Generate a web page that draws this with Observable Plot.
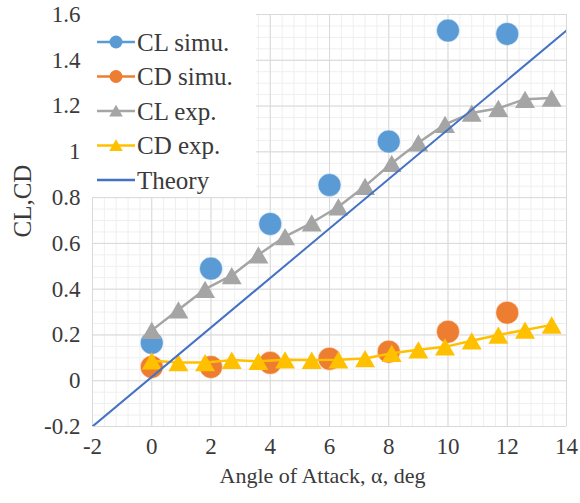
<!DOCTYPE html>
<html>
<head>
<meta charset="utf-8">
<script src="https://cdn.jsdelivr.net/npm/d3@7"></script>
<script src="https://cdn.jsdelivr.net/npm/@observablehq/plot@0.6"></script>
<style>
  html, body { margin: 0; padding: 0; background: #fff; }
  #chart { width: 580px; height: 503px; }
  #chart svg text { font-family: "Liberation Serif", "Times New Roman", serif !important; }
</style>
</head>
<body>
<div id="chart"></div>
<script>
// ---- data ----
const xTicks = [-2, 0, 2, 4, 6, 8, 10, 12, 14];
const yTicks = [-0.2, 0, 0.2, 0.4, 0.6, 0.8, 1, 1.2, 1.4, 1.6];

const simAlpha = [0, 2, 4, 6, 8, 10, 12];
const clSim = [0.165, 0.49, 0.685, 0.855, 1.045, 1.53, 1.515];
const cdSim = [0.06, 0.06, 0.078, 0.096, 0.127, 0.214, 0.297];

const expAlpha = [0, 0.9, 1.8, 2.7, 3.6, 4.5, 5.4, 6.3, 7.2, 8.1, 9.0, 9.9, 10.8, 11.7, 12.6, 13.5];
const clExp = [0.22, 0.31, 0.40, 0.46, 0.55, 0.63, 0.69, 0.76, 0.85, 0.95, 1.04, 1.12, 1.17, 1.19, 1.23, 1.235];
const cdExp = [0.087, 0.08, 0.08, 0.09, 0.085, 0.092, 0.09, 0.092, 0.097, 0.12, 0.135, 0.148, 0.175, 0.2, 0.222, 0.244];

const theoryAlpha = [-2, 14];
const theoryCL = [-0.2, 1.53];

const seriesNames = ["CL simu.", "CD simu.", "CL exp.", "CD exp.", "Theory"];
const xLabel = "Angle of Attack, α, deg";
const yLabel = "CL,CD";

// ---- styling ----
const C = { clSim: "#5B9BD5", cdSim: "#ED7D31", clExp: "#A5A5A5", cdExp: "#FFC000", theory: "#4472C4" };
const FONT = "Liberation Serif, Times New Roman, serif";
const TXT = "#3a3a3a";

const simRows = simAlpha.map((a, i) => ({ a, cl: clSim[i], cd: cdSim[i] }));
const expRows = expAlpha.map((a, i) => ({ a, cl: clExp[i], cd: cdExp[i] }));
const theoryRows = theoryAlpha.map((a, i) => ({ a, cl: theoryCL[i] }));

const minorX = d3.range(0, 41).map(i => -2 + i * 0.4);
const minorY = d3.range(0, 37).map(i => -0.2 + i * 0.05);

const TRI_R = 7.4;

const plot = Plot.plot({
  width: 580,
  height: 503,
  marginLeft: 92,
  marginRight: 14,
  marginTop: 14,
  marginBottom: 77,
  x: { domain: [-2, 14], axis: null },
  y: { domain: [-0.2, 1.6], axis: null },
  style: { fontFamily: FONT, color: TXT, background: "white" },
  marks: [
    Plot.ruleX(minorX, { stroke: "#efefef", strokeWidth: 1 }),
    Plot.ruleY(minorY, { stroke: "#efefef", strokeWidth: 1 }),
    Plot.ruleX(xTicks, { stroke: "#d9d9d9", strokeWidth: 1 }),
    Plot.ruleY(yTicks, { stroke: "#d9d9d9", strokeWidth: 1 }),
    Plot.axisX(xTicks, { tickSize: 0, tickPadding: 11, tickFormat: d => String(d), fontSize: 23, label: null, fill: TXT }),
    Plot.axisY(yTicks, { tickSize: 0, tickPadding: 12, tickFormat: d => String(d), fontSize: 23, label: null, fill: TXT }),
    // simulations
    Plot.dot(simRows, { x: "a", y: "cl", r: 11.5, fill: C.clSim, stroke: "white", strokeWidth: 0.5 }),
    Plot.dot(simRows, { x: "a", y: "cd", r: 11.5, fill: C.cdSim, stroke: "white", strokeWidth: 0.5 }),
    // experiments
    Plot.line(expRows, { x: "a", y: "cl", stroke: C.clExp, strokeWidth: 2.5 }),
    Plot.dot(expRows, { x: "a", y: "cl", symbol: "triangle", r: TRI_R, fill: C.clExp, dy: 3 }),
    Plot.line(expRows, { x: "a", y: "cd", stroke: C.cdExp, strokeWidth: 2.5 }),
    Plot.dot(expRows, { x: "a", y: "cd", symbol: "triangle", r: TRI_R, fill: C.cdExp, dy: 3 }),
    // theory
    Plot.line(theoryRows, { x: "a", y: "cl", stroke: C.theory, strokeWidth: 2, clip: true }),
    // axis titles
    Plot.text([xLabel], { frameAnchor: "bottom", dx: -7, dy: 56, fontSize: 22, fill: TXT }),
    Plot.text([yLabel], { frameAnchor: "left", rotate: -90, dx: -70, dy: 17, fontSize: 25, fill: TXT })
  ]
});

document.getElementById("chart").appendChild(plot);

const svg = d3.select(plot);
// enforce tick label size
svg.selectAll('g[aria-label="x-axis tick label"] text, g[aria-label="y-axis tick label"] text')
  .style("font-size", "23px");

// ---- legend (inside plot, top-left) ----
const lg = svg.append("g").attr("class", "legend");
lg.append("rect").attr("x", 92).attr("y", 14).attr("width", 164).attr("height", 183).attr("fill", "white");
const items = [
  { name: seriesNames[0], color: C.clSim, sym: "circle" },
  { name: seriesNames[1], color: C.cdSim, sym: "circle" },
  { name: seriesNames[2], color: C.clExp, sym: "triangle" },
  { name: seriesNames[3], color: C.cdExp, sym: "triangle" },
  { name: seriesNames[4], color: C.theory, sym: null }
];
items.forEach((it, i) => {
  const y = 42 + i * 34.5;
  const g = lg.append("g");
  g.append("line").attr("x1", 97).attr("x2", 135).attr("y1", y).attr("y2", y)
    .attr("stroke", it.color).attr("stroke-width", 2.5);
  if (it.sym === "circle") {
    g.append("circle").attr("cx", 116).attr("cy", y).attr("r", 6.5).attr("fill", it.color);
  } else if (it.sym === "triangle") {
    g.append("path").attr("d", d3.symbol(d3.symbolTriangle, 80)()).attr("transform", `translate(116,${y + 1.5})`).attr("fill", it.color);
  }
  g.append("text").attr("x", 137).attr("y", y).attr("dy", "0.35em")
    .attr("text-anchor", "start")
    .style("font-size", "25px").attr("fill", TXT).text(it.name);
});
</script>
</body>
</html>
